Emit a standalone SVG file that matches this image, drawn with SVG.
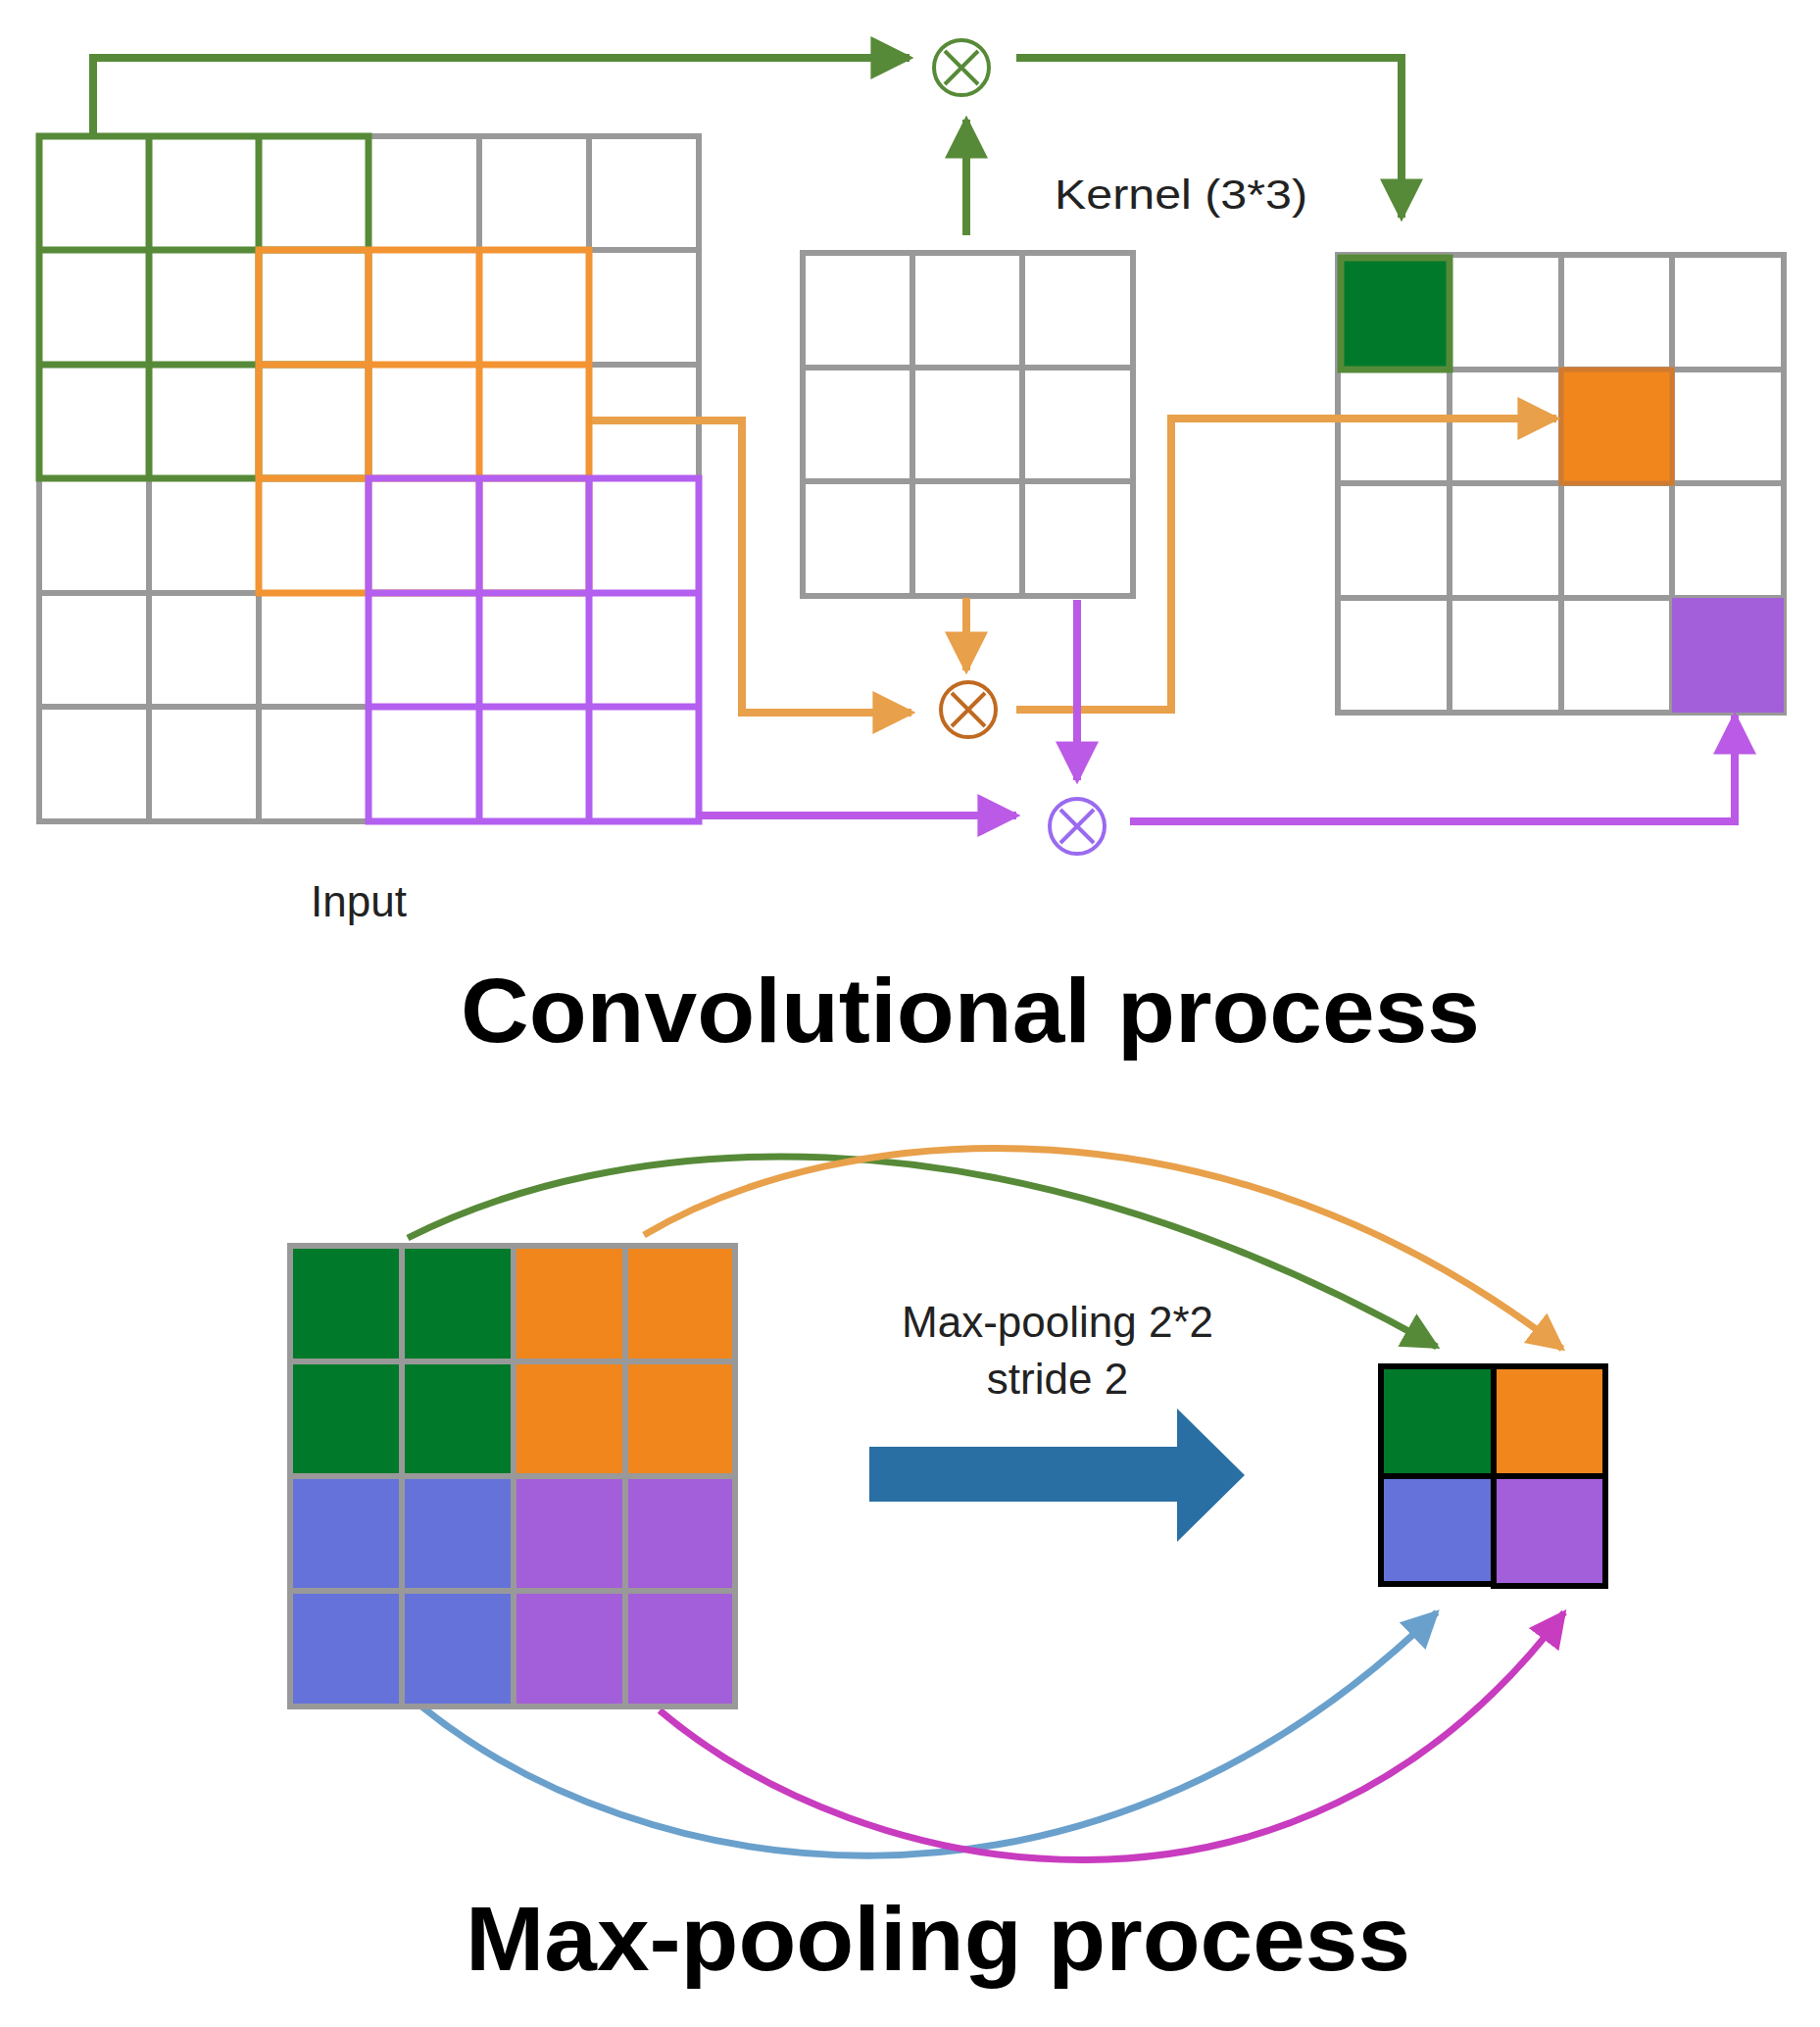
<svg xmlns="http://www.w3.org/2000/svg" width="1857" height="2068" viewBox="0 0 1857 2068">
<defs>
<marker id="ag" viewBox="0 0 10 10" refX="9" refY="5" markerWidth="5.5" markerHeight="5.5" orient="auto" markerUnits="strokeWidth"><path d="M0,0L10,5L0,10z" fill="#578a38"/></marker>
<marker id="ao" viewBox="0 0 10 10" refX="9" refY="5" markerWidth="5.5" markerHeight="5.5" orient="auto" markerUnits="strokeWidth"><path d="M0,0L10,5L0,10z" fill="#e8a04a"/></marker>
<marker id="ap" viewBox="0 0 10 10" refX="9" refY="5" markerWidth="5.5" markerHeight="5.5" orient="auto" markerUnits="strokeWidth"><path d="M0,0L10,5L0,10z" fill="#bb5ae6"/></marker>
<marker id="ab" viewBox="0 0 10 10" refX="9" refY="5" markerWidth="5.5" markerHeight="5.5" orient="auto" markerUnits="strokeWidth"><path d="M0,0L10,5L0,10z" fill="#6aa0cc"/></marker>
<marker id="am" viewBox="0 0 10 10" refX="9" refY="5" markerWidth="5.5" markerHeight="5.5" orient="auto" markerUnits="strokeWidth"><path d="M0,0L10,5L0,10z" fill="#c83cbf"/></marker>
</defs>
<style>
.c{fill:#fff;stroke:#999;stroke-width:6}
.g{fill:none;stroke:#578a38;stroke-width:7}
.o{fill:none;stroke:#f39433;stroke-width:7}
.p{fill:none;stroke:#b35ff0;stroke-width:7}
.t{font-family:"Liberation Sans",Arial,sans-serif;fill:#222}
.h{font-family:"Liberation Sans",Arial,sans-serif;font-weight:bold;fill:#000}
.lg{fill:none;stroke:#578a38;stroke-width:8}
.lo{fill:none;stroke:#e8a04a;stroke-width:8}
.lp{fill:none;stroke:#bb5ae6;stroke-width:8}
.pc{stroke:#999;stroke-width:6}
</style>
<rect width="1857" height="2068" fill="#fff"/>
<g id="input">
<g transform="translate(40,139)">
<path class="c" d="M0,0h673v699h-673z"/>
<path fill="none" stroke="#999" stroke-width="6" d="M112,0v699M224,0v699M336,0v699M449,0v699M561,0v699M0,116h673M0,233h673M0,349h673M0,466h673M0,582h673"/>
<path class="g" d="M0,0h336v349h-336zM112,0v349M224,0v349M0,116h336M0,233h336"/>
<path class="o" d="M224,116h337v350h-337zM336,116v350M449,116v350M224,233h337M224,349h337"/>
<path class="p" d="M336,349h337v350h-337zM449,349v350M561,349v350M336,466h337M336,582h337"/>
</g>
<text class="t" x="317" y="935" font-size="44">Input</text>
</g>
<g id="kernel">
<path class="c" d="M819,258h337v350h-337z"/>
<path fill="none" stroke="#999" stroke-width="6" d="M931,258v350M1043,258v350M819,375h337M819,491h337"/>
<text class="t" x="1076" y="213" font-size="43" textLength="258" lengthAdjust="spacingAndGlyphs">Kernel (3*3)</text>
</g>
<g id="output">
<path class="c" d="M1365,260h455v467h-455z"/>
<path fill="none" stroke="#999" stroke-width="6" d="M1479,260v467M1593,260v467M1706,260v467M1365,377h455M1365,493h455M1365,610h455"/>
<rect x="1368" y="263" width="111" height="114" fill="#007a2a" stroke="#578a38" stroke-width="7"/>
<rect x="1593" y="377" width="113" height="116" fill="#f0861c" stroke="#d07a30" stroke-width="5"/>
<rect x="1706" y="610" width="114" height="117" fill="#a35ed9"/>
</g>
<g id="mult-green"><circle cx="981" cy="69" r="28" fill="#fff" stroke="#578a38" stroke-width="4"/><path d="M964,52L998,86M998,52L964,86" stroke="#578a38" stroke-width="4"/></g>
<g id="mult-orange"><circle cx="988" cy="724" r="28" fill="#fff" stroke="#c06a20" stroke-width="4"/><path d="M971,707L1005,741M1005,707L971,741" stroke="#c06a20" stroke-width="4"/></g>
<g id="mult-purple"><circle cx="1099" cy="843" r="28" fill="#fff" stroke="#9a6af0" stroke-width="4"/><path d="M1082,826L1116,860M1116,826L1082,860" stroke="#9a6af0" stroke-width="4"/></g>
<g id="connectors">
<path class="lg" d="M95,139V59H928" marker-end="url(#ag)"/>
<path class="lg" d="M986,240V122" marker-end="url(#ag)"/>
<path class="lg" d="M1037,59H1430V222" marker-end="url(#ag)"/>
<path class="lo" d="M604,429H757V727H930" marker-end="url(#ao)"/>
<path class="lo" d="M986,610V684" marker-end="url(#ao)"/>
<path class="lo" d="M1037,724H1195V427H1588" marker-end="url(#ao)"/>
<path class="lp" d="M713,832H1037" marker-end="url(#ap)"/>
<path class="lp" d="M1099,612V796" marker-end="url(#ap)"/>
<path class="lp" d="M1153,838H1770V730" marker-end="url(#ap)"/>
<path d="M416,1263C620,1160 1000,1110 1466,1374" fill="none" stroke="#578a38" stroke-width="7" marker-end="url(#ag)"/>
<path d="M657,1260C860,1140 1250,1110 1594,1376" fill="none" stroke="#e8a04a" stroke-width="7" marker-end="url(#ao)"/>
<path d="M429,1740C650,1920 1100,2000 1466,1645" fill="none" stroke="#6aa0cc" stroke-width="7" marker-end="url(#ab)"/>
<path d="M673,1745C880,1920 1320,2010 1596,1645" fill="none" stroke="#c83cbf" stroke-width="7" marker-end="url(#am)"/>
</g>
<text class="h" x="990" y="1063" font-size="92" text-anchor="middle" textLength="1040" lengthAdjust="spacingAndGlyphs">Convolutional process</text>
<g id="pool-input">
<rect x="296" y="1271" width="114" height="118" fill="#007a2a" class="pc"/>
<rect x="410" y="1271" width="114" height="118" fill="#007a2a" class="pc"/>
<rect x="524" y="1271" width="114" height="118" fill="#f0861c" class="pc"/>
<rect x="638" y="1271" width="112" height="118" fill="#f0861c" class="pc"/>
<rect x="296" y="1389" width="114" height="117" fill="#007a2a" class="pc"/>
<rect x="410" y="1389" width="114" height="117" fill="#007a2a" class="pc"/>
<rect x="524" y="1389" width="114" height="117" fill="#f0861c" class="pc"/>
<rect x="638" y="1389" width="112" height="117" fill="#f0861c" class="pc"/>
<rect x="296" y="1506" width="114" height="117" fill="#6572da" class="pc"/>
<rect x="410" y="1506" width="114" height="117" fill="#6572da" class="pc"/>
<rect x="524" y="1506" width="114" height="117" fill="#a35ed9" class="pc"/>
<rect x="638" y="1506" width="112" height="117" fill="#a35ed9" class="pc"/>
<rect x="296" y="1623" width="114" height="118" fill="#6572da" class="pc"/>
<rect x="410" y="1623" width="114" height="118" fill="#6572da" class="pc"/>
<rect x="524" y="1623" width="114" height="118" fill="#a35ed9" class="pc"/>
<rect x="638" y="1623" width="112" height="118" fill="#a35ed9" class="pc"/>
</g>
<g id="pool-output" stroke="#000" stroke-width="6">
<rect x="1409" y="1394" width="115" height="112" fill="#007a2a"/>
<rect x="1524" y="1394" width="114" height="112" fill="#f0861c"/>
<rect x="1409" y="1506" width="115" height="110" fill="#6572da"/>
<rect x="1524" y="1506" width="114" height="112" fill="#a35ed9"/>
</g>
<g id="pool-arrow">
<path d="M887,1476H1201V1437L1270,1505L1201,1573V1532H887z" fill="#2a6fa3"/>
<text class="t" x="1079" y="1364" font-size="44" text-anchor="middle">Max-pooling 2*2</text>
<text class="t" x="1079" y="1422" font-size="44" text-anchor="middle">stride 2</text>
</g>
<text class="h" x="957" y="2010" font-size="92" text-anchor="middle" textLength="964" lengthAdjust="spacingAndGlyphs">Max-pooling process</text>
</svg>
